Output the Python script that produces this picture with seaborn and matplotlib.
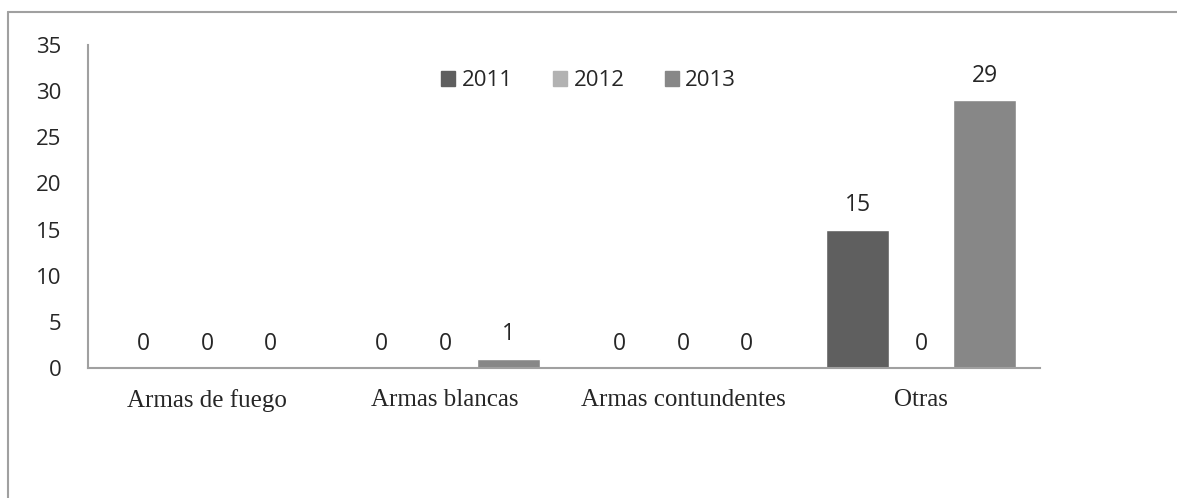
import matplotlib
matplotlib.use("Agg")
import matplotlib.pyplot as plt
import seaborn as sns
import pandas as pd
from matplotlib.lines import Line2D

categories = ["Armas de fuego", "Armas blancas", "Armas contundentes", "Otras"]
years = ["2011", "2012", "2013"]
values_2011 = [0, 0, 0, 15]
values_2012 = [0, 0, 0, 0]
values_2013 = [0, 1, 0, 29]
colors = ["#5f5f5f", "#b2b2b2", "#878787"]

rows = []
for y, vals in zip(years, [values_2011, values_2012, values_2013]):
    for c, v in zip(categories, vals):
        rows.append({"cat": c, "year": y, "val": v})
df = pd.DataFrame(rows)

sns.set_style("white")
plt.rcParams["font.family"] = ["Open Sans", "DejaVu Sans"]

W, H = 1177, 498
fig = plt.figure(figsize=(W/100, H/100), dpi=100)
ax = fig.add_axes([88/W, 1-368/H, (1040-88)/W, (368-45)/H])
sns.barplot(data=df, x="cat", y="val", hue="year", palette=colors,
            width=0.8, ax=ax, saturation=1, legend=True)

ax.set_ylim(0, 35)
ax.set_yticks(range(0, 36, 5))
ax.set_xlim(-0.5, 3.5)
ax.set_xlabel("")
ax.set_ylabel("")
for s in ["top", "right"]:
    ax.spines[s].set_visible(False)
for s in ["left", "bottom"]:
    ax.spines[s].set_color("#a0a0a0")
    ax.spines[s].set_linewidth(1.5)
ax.tick_params(axis="y", length=0, pad=19, labelsize=16)
ax.tick_params(axis="x", length=0, pad=15, labelsize=18)
for lab in ax.get_xticklabels():
    lab.set_fontfamily(["Liberation Serif", "DejaVu Serif"])
for lab in ax.get_yticklabels():
    lab.set_horizontalalignment("right")

for cont in ax.containers:
    ax.bar_label(cont, fmt="%d", padding=9, fontsize=16.5)

handles = [plt.Rectangle((0, 0), 1, 1, color=c) for c in colors]
ax.legend(handles, years, loc="center", bbox_to_anchor=(0.526, 0.889),
          ncol=3, frameon=False, fontsize=16, handlelength=0.63,
          handleheight=0.63, handletextpad=0.3, columnspacing=1.8,
          borderpad=0, borderaxespad=0)

# outer border lines
fig.add_artist(Line2D([8/W, 1], [1-12/H, 1-12/H], color="#a0a0a0", lw=1.5,
                      transform=fig.transFigure))
fig.add_artist(Line2D([8/W, 8/W], [0, 1-12/H], color="#a0a0a0", lw=1.5,
                      transform=fig.transFigure))

fig.savefig("out.png", dpi=100, facecolor="white")
